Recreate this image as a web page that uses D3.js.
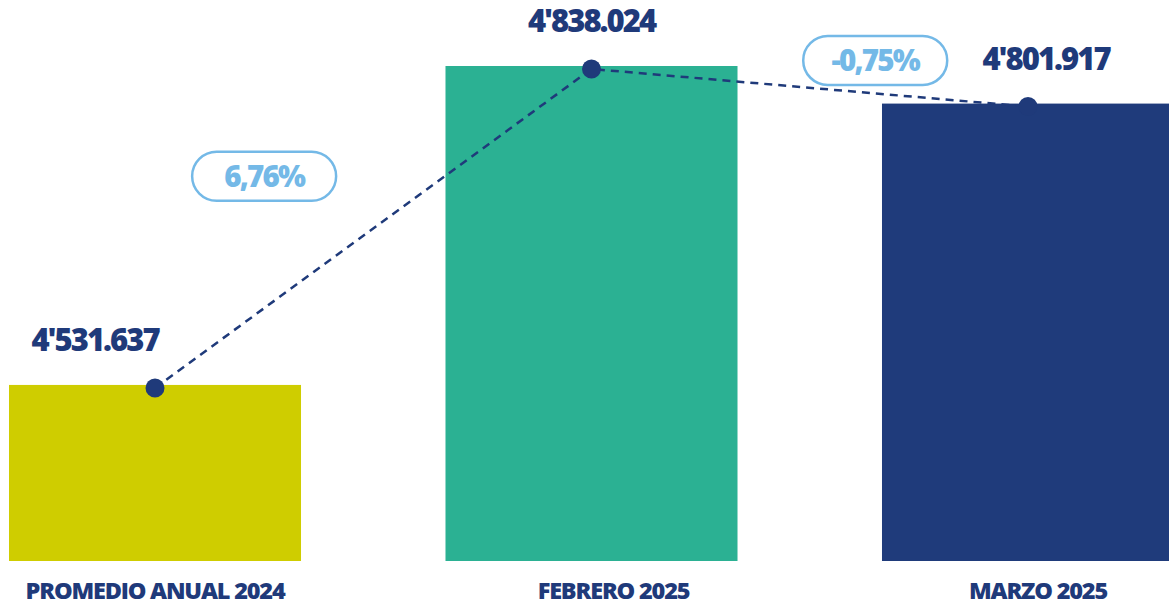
<!DOCTYPE html>
<html>
<head>
<meta charset="utf-8">
<script src="https://cdn.jsdelivr.net/npm/d3@7"></script>
<style>
  html, body { margin: 0; padding: 0; background: #fff; overflow: hidden; }
  text { font-family: "Open Sans", sans-serif; font-weight: 800; }
</style>
</head>
<body>
<div id="visual"></div>
<script>
let width = 1169, height = 607

let categories = ["PROMEDIO ANUAL 2024", "FEBRERO 2025", "MARZO 2025"]
let values = [4531637, 4838024, 4801917]
let changeLabels = ["6,76%", "-0,75%"]
let barColors = ["#cfcd00", "#2bb193", "#1f3b7b"]

let navy = "#1f3a7a"
let sky = "#74b9e7"

// 4'838.024 style
let fmtValue = v => {
    let m = Math.floor(v / 1e6)
    let rest = d3.format("07,")(v % 1e6).replace(",", ".")
    return m + "'" + rest
}

let svg = d3.select("#visual")
    .append("svg")
    .attr("width", width)
    .attr("height", height)

let x = d3.scaleBand()
    .domain(categories)
    .range([9, 1174])
    .paddingInner(0.331)
    .paddingOuter(0)

let y = d3.scaleLinear()
    .domain([4362500, 4838024])
    .range([561, 66])

let data = categories.map((c, i) => ({ name: c, value: values[i], color: barColors[i] }))

svg.selectAll("bar")
    .data(data)
    .enter()
    .append("rect")
    .attr("x", d => x(d.name))
    .attr("y", d => y(d.value))
    .attr("width", x.bandwidth())
    .attr("height", d => y.range()[0] - y(d.value))
    .attr("fill", d => d.color)

let cx = d => x(d.name) + x.bandwidth() / 2

svg.append("path")
    .datum(data)
    .attr("d", d3.line().x(cx).y(d => y(d.value) + 3))
    .attr("fill", "none")
    .attr("stroke", navy)
    .attr("stroke-width", 2.5)
    .attr("stroke-dasharray", "8,6")

svg.selectAll("dot")
    .data(data)
    .enter()
    .append("circle")
    .attr("cx", cx)
    .attr("cy", d => y(d.value) + 3)
    .attr("r", 9.5)
    .attr("fill", navy)

svg.selectAll("valueLabel")
    .data(data)
    .enter()
    .append("text")
    .attr("x", (d, i) => cx(d) + [-60, 0, 18][i])
    .attr("y", d => y(d.value) - 34)
    .attr("text-anchor", "middle")
    .attr("font-size", 31)
    .attr("letter-spacing", -2)
    .attr("fill", navy)
    .text(d => fmtValue(d.value))

svg.selectAll("catLabel")
    .data(data)
    .enter()
    .append("text")
    .attr("x", (d, i) => cx(d) + [0, 22, 10][i])
    .attr("y", 599)
    .attr("text-anchor", "middle")
    .attr("font-size", 23.5)
    .attr("letter-spacing", -1.2)
    .attr("fill", navy)
    .text(d => d.name)

// change pills placed along each segment
let pills = changeLabels.map((label, i) => {
    let a = data[i], b = data[i + 1]
    let t = [0.25, 0.65][i]
    let px = cx(a) + (cx(b) - cx(a)) * t
    let py = y(a.value) + (y(b.value) - y(a.value)) * t + [-129, -30][i]
    return { label, px, py }
})

let pill = svg.selectAll("pill")
    .data(pills)
    .enter()
    .append("g")
    .attr("transform", d => "translate(" + d.px + "," + d.py + ")")

pill.append("rect")
    .attr("x", -72)
    .attr("y", -24.5)
    .attr("width", 144)
    .attr("height", 49)
    .attr("rx", 24.5)
    .attr("fill", "#fff")
    .attr("stroke", sky)
    .attr("stroke-width", 2.5)

pill.append("text")
    .attr("y", 10.5)
    .attr("text-anchor", "middle")
    .attr("font-size", 29.5)
    .attr("letter-spacing", -1.8)
    .attr("fill", sky)
    .text(d => d.label)
</script>
</body>
</html>
